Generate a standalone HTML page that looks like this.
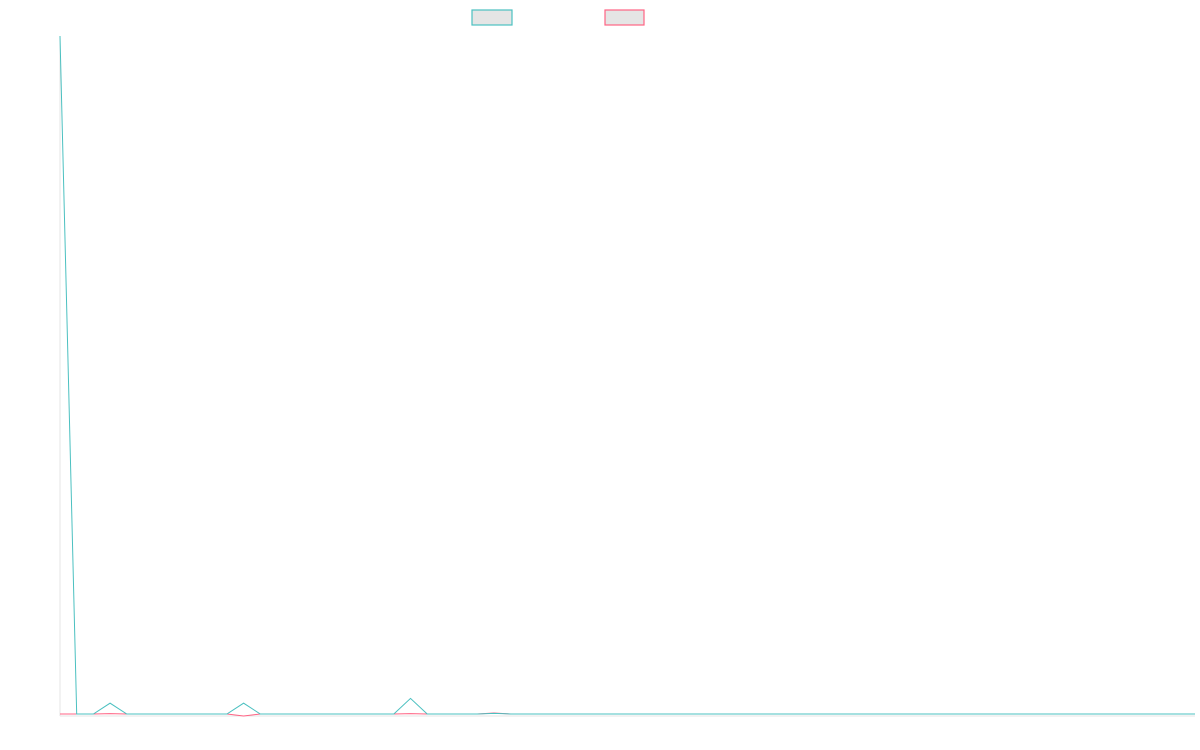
<!DOCTYPE html>
<html><head><meta charset="utf-8"><style>
html,body{margin:0;padding:0;background:#fff;width:1200px;height:750px;overflow:hidden;font-family:"Liberation Sans",sans-serif}
</style></head><body>
<svg id="chart" width="1200" height="750">
<rect x="472" y="10" width="40" height="15" fill="#e5e5e5" stroke="#4bc0c0" stroke-width="1.2"/>
<rect x="605" y="10" width="39" height="15" fill="#e5e5e5" stroke="#ff6384" stroke-width="1.2"/>
<line x1="60" y1="36" x2="60" y2="716" stroke="#e6e6e6"/>
<line x1="60" y1="716" x2="1195" y2="716" stroke="#e6e6e6"/>
</svg>
<script>
const N = 69;
const seriesA = [100,0,0,1.6,0,0,0,0,0,0,0,1.6,0,0,0,0,0,0,0,0,0,2.3,0,0,0,0,0.1,0,0,0,0,0,0,0,0,0,0,0,0,0,0,0,0,0,0,0,0,0,0,0,0,0,0,0,0,0,0,0,0,0,0,0,0,0,0,0,0,0,0];
const seriesB = [0,0,0,0.05,0,0,0,0,0,0,0,-0.3,0,0,0,0,0,0,0,0,0,0.05,0,0,0,0,0.15,0,0,0,0,0,0,0,0,0,0,0,0,0,0,0,0,0,0,0,0,0,0,0,0,0,0,0,0,0,0,0,0,0,0,0,0,0,0,0,0,0,0];
const yMin = 0, yMax = 100;
const x = i => 60 + i * (1135 / (N - 1));
const y = v => 714 - (v - yMin) / (yMax - yMin) * 678;
const svg = document.getElementById('chart');
function line(data, color, name) {
  const p = document.createElementNS('http://www.w3.org/2000/svg', 'polyline');
  p.setAttribute('points', data.map((v, i) => x(i) + ',' + y(v)).join(' '));
  p.setAttribute('fill', 'none');
  p.setAttribute('stroke', color);
  p.setAttribute('stroke-width', '1');
  
  
  svg.appendChild(p);
}
line(seriesB, '#ff6384', 'series-2-line');
line(seriesA, '#4bc0c0', 'series-1-line');
</script>
</body></html>
